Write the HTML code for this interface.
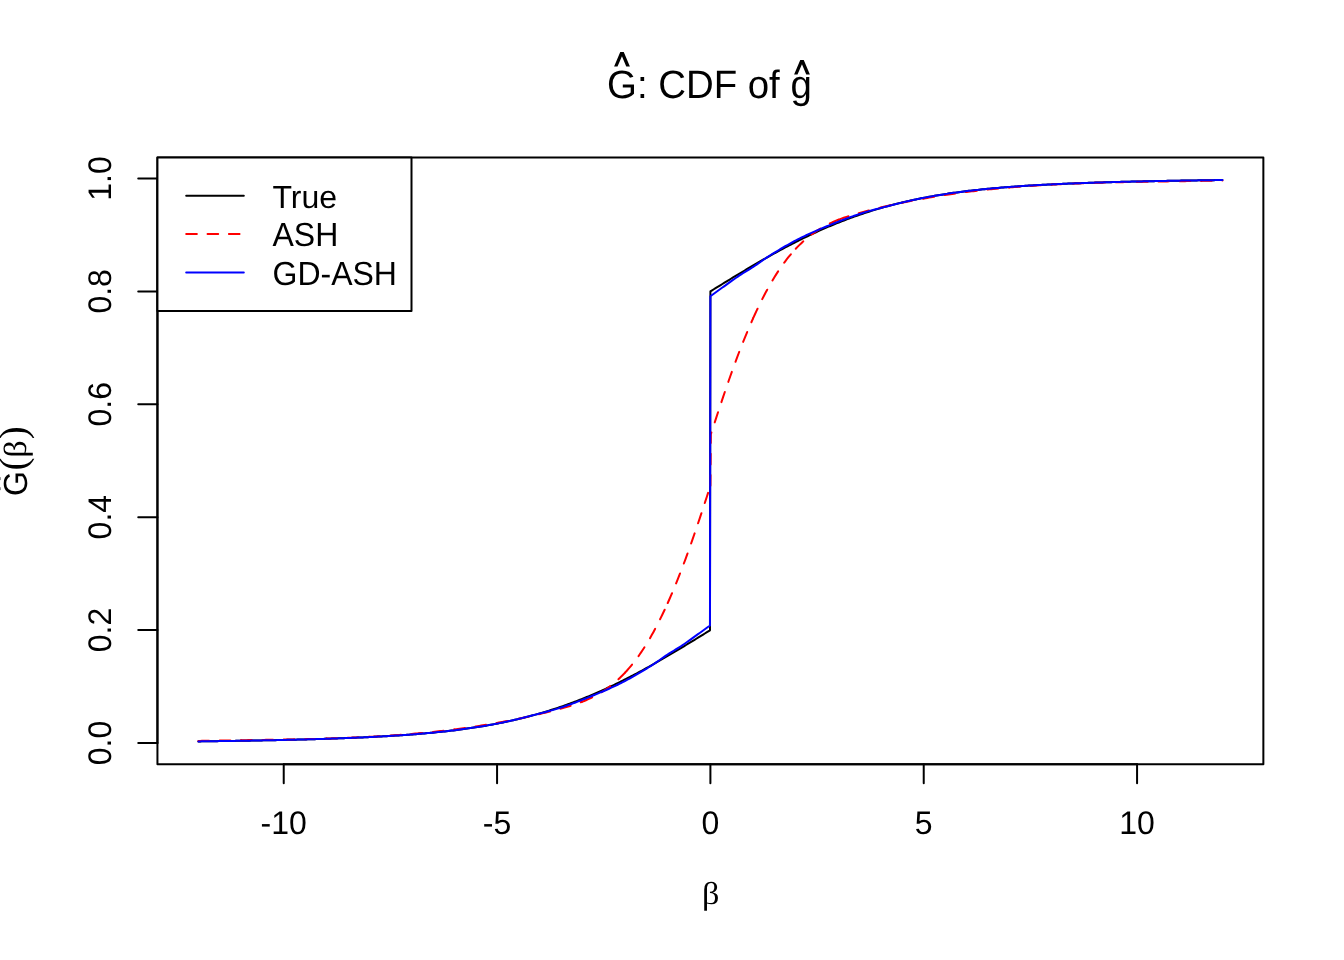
<!DOCTYPE html>
<html><head><meta charset="utf-8"><title>CDF of g</title>
<style>
html,body{margin:0;padding:0;background:#fff;}
body{width:1344px;height:960px;overflow:hidden;}
svg{display:block;will-change:transform;}
text{text-rendering:geometricPrecision;}
.t{font-family:"Liberation Sans",Arial,sans-serif;font-size:32px;fill:#000;}
.m{font-family:"Liberation Sans",Arial,sans-serif;font-size:38.4px;fill:#000;}
.g{font-family:"Liberation Serif","DejaVu Serif",serif;font-size:32px;fill:#000;}
.p{font-family:"Liberation Serif","DejaVu Serif",serif;font-size:39px;fill:#000;}
</style></head><body>
<svg width="1344" height="960" viewBox="0 0 1344 960">
<rect width="1344" height="960" fill="#fff"/>
<rect x="157.44" y="157.44" width="1105.92" height="606.72" fill="none" stroke="#000" stroke-width="2" stroke-linejoin="round"/>
<line x1="283.73" y1="764.16" x2="1137.07" y2="764.16" stroke="#000" stroke-width="2" stroke-linecap="round"/>
<line x1="283.73" y1="764.16" x2="283.73" y2="783.36" stroke="#000" stroke-width="2" stroke-linecap="round"/>
<line x1="497.07" y1="764.16" x2="497.07" y2="783.36" stroke="#000" stroke-width="2" stroke-linecap="round"/>
<line x1="710.40" y1="764.16" x2="710.40" y2="783.36" stroke="#000" stroke-width="2" stroke-linecap="round"/>
<line x1="923.73" y1="764.16" x2="923.73" y2="783.36" stroke="#000" stroke-width="2" stroke-linecap="round"/>
<line x1="1137.07" y1="764.16" x2="1137.07" y2="783.36" stroke="#000" stroke-width="2" stroke-linecap="round"/>
<line x1="157.44" y1="742.94" x2="157.44" y2="178.49" stroke="#000" stroke-width="2" stroke-linecap="round"/>
<line x1="157.44" y1="742.94" x2="138.24" y2="742.94" stroke="#000" stroke-width="2" stroke-linecap="round"/>
<line x1="157.44" y1="630.05" x2="138.24" y2="630.05" stroke="#000" stroke-width="2" stroke-linecap="round"/>
<line x1="157.44" y1="517.16" x2="138.24" y2="517.16" stroke="#000" stroke-width="2" stroke-linecap="round"/>
<line x1="157.44" y1="404.27" x2="138.24" y2="404.27" stroke="#000" stroke-width="2" stroke-linecap="round"/>
<line x1="157.44" y1="291.38" x2="138.24" y2="291.38" stroke="#000" stroke-width="2" stroke-linecap="round"/>
<line x1="157.44" y1="178.49" x2="138.24" y2="178.49" stroke="#000" stroke-width="2" stroke-linecap="round"/>
<text transform="translate(283.73,833.6) scale(1,1.02)" class="t" text-anchor="middle">-10</text>
<text transform="translate(497.07,833.6) scale(1,1.02)" class="t" text-anchor="middle">-5</text>
<text transform="translate(710.40,833.6) scale(1,1.02)" class="t" text-anchor="middle">0</text>
<text transform="translate(923.73,833.6) scale(1,1.02)" class="t" text-anchor="middle">5</text>
<text transform="translate(1137.07,833.6) scale(1,1.02)" class="t" text-anchor="middle">10</text>
<text transform="translate(111.3,742.94) rotate(-90) scale(1,1.02)" class="t" text-anchor="middle">0.0</text>
<text transform="translate(111.3,630.05) rotate(-90) scale(1,1.02)" class="t" text-anchor="middle">0.2</text>
<text transform="translate(111.3,517.16) rotate(-90) scale(1,1.02)" class="t" text-anchor="middle">0.4</text>
<text transform="translate(111.3,404.27) rotate(-90) scale(1,1.02)" class="t" text-anchor="middle">0.6</text>
<text transform="translate(111.3,291.38) rotate(-90) scale(1,1.02)" class="t" text-anchor="middle">0.8</text>
<text transform="translate(111.3,178.49) rotate(-90) scale(1,1.02)" class="t" text-anchor="middle">1.0</text>
<polyline points="198.40,741.40 200.11,741.38 201.82,741.35 203.53,741.33 205.24,741.31 206.95,741.29 208.67,741.27 210.38,741.24 212.09,741.22 213.80,741.20 215.51,741.17 217.22,741.15 218.93,741.12 220.64,741.10 222.35,741.07 224.06,741.05 225.77,741.02 227.49,741.00 229.20,740.97 230.91,740.94 232.62,740.92 234.33,740.89 236.04,740.86 237.75,740.83 239.46,740.81 241.17,740.78 242.88,740.75 244.60,740.72 246.31,740.69 248.02,740.66 249.73,740.63 251.44,740.60 253.15,740.57 254.86,740.54 256.57,740.50 258.28,740.47 259.99,740.44 261.70,740.41 263.42,740.37 265.13,740.34 266.84,740.31 268.55,740.27 270.26,740.24 271.97,740.20 273.68,740.16 275.39,740.13 277.10,740.09 278.81,740.05 280.53,740.01 282.24,739.98 283.95,739.94 285.66,739.90 287.37,739.86 289.08,739.82 290.79,739.78 292.50,739.73 294.21,739.69 295.92,739.65 297.63,739.61 299.35,739.56 301.06,739.52 302.77,739.47 304.48,739.43 306.19,739.38 307.90,739.33 309.61,739.28 311.32,739.24 313.03,739.19 314.74,739.14 316.46,739.09 318.17,739.03 319.88,738.98 321.59,738.93 323.30,738.88 325.01,738.82 326.72,738.77 328.43,738.71 330.14,738.65 331.85,738.59 333.56,738.54 335.28,738.48 336.99,738.41 338.70,738.35 340.41,738.29 342.12,738.23 343.83,738.16 345.54,738.10 347.25,738.03 348.96,737.96 350.67,737.89 352.39,737.82 354.10,737.75 355.81,737.68 357.52,737.60 359.23,737.53 360.94,737.45 362.65,737.38 364.36,737.30 366.07,737.22 367.78,737.13 369.49,737.05 371.21,736.97 372.92,736.88 374.63,736.79 376.34,736.70 378.05,736.61 379.76,736.52 381.47,736.43 383.18,736.33 384.89,736.23 386.60,736.14 388.31,736.03 390.03,735.93 391.74,735.83 393.45,735.72 395.16,735.61 396.87,735.50 398.58,735.39 400.29,735.27 402.00,735.16 403.71,735.04 405.42,734.92 407.14,734.79 408.85,734.67 410.56,734.54 412.27,734.41 413.98,734.27 415.69,734.14 417.40,734.00 419.11,733.86 420.82,733.71 422.53,733.57 424.24,733.42 425.96,733.27 427.67,733.11 429.38,732.95 431.09,732.79 432.80,732.63 434.51,732.46 436.22,732.29 437.93,732.12 439.64,731.94 441.35,731.76 443.07,731.57 444.78,731.39 446.49,731.20 448.20,731.00 449.91,730.80 451.62,730.60 453.33,730.39 455.04,730.18 456.75,729.97 458.46,729.75 460.17,729.53 461.89,729.30 463.60,729.07 465.31,728.84 467.02,728.60 468.73,728.36 470.44,728.11 472.15,727.86 473.86,727.60 475.57,727.34 477.28,727.07 479.00,726.80 480.71,726.52 482.42,726.24 484.13,725.95 485.84,725.66 487.55,725.36 489.26,725.06 490.97,724.75 492.68,724.44 494.39,724.12 496.10,723.80 497.82,723.46 499.53,723.13 501.24,722.79 502.95,722.44 504.66,722.09 506.37,721.73 508.08,721.36 509.79,720.99 511.50,720.61 513.21,720.23 514.93,719.84 516.64,719.44 518.35,719.04 520.06,718.63 521.77,718.21 523.48,717.79 525.19,717.36 526.90,716.92 528.61,716.48 530.32,716.03 532.03,715.57 533.75,715.10 535.46,714.63 537.17,714.15 538.88,713.67 540.59,713.18 542.30,712.68 544.01,712.17 545.72,711.65 547.43,711.13 549.14,710.60 550.86,710.06 552.57,709.52 554.28,708.97 555.99,708.41 557.70,707.84 559.41,707.27 561.12,706.68 562.83,706.09 564.54,705.50 566.25,704.89 567.96,704.28 569.68,703.66 571.39,703.03 573.10,702.39 574.81,701.75 576.52,701.09 578.23,700.43 579.94,699.77 581.65,699.09 583.36,698.41 585.07,697.72 586.79,697.02 588.50,696.31 590.21,695.60 591.92,694.88 593.63,694.15 595.34,693.41 597.05,692.66 598.76,691.91 600.47,691.15 602.18,690.38 603.89,689.61 605.61,688.82 607.32,688.03 609.03,687.24 610.74,686.43 612.45,685.62 614.16,684.80 615.87,683.97 617.58,683.14 619.29,682.30 621.00,681.45 622.71,680.59 624.43,679.73 626.14,678.86 627.85,677.99 629.56,677.11 631.27,676.22 632.98,675.32 634.69,674.42 636.40,673.51 638.11,672.60 639.82,671.68 641.54,670.76 643.25,669.83 644.96,668.89 646.67,667.95 648.38,667.00 650.09,666.04 651.80,665.08 653.51,664.12 655.22,663.15 656.93,662.18 658.64,661.20 660.36,660.21 662.07,659.23 663.78,658.23 665.49,657.24 667.20,656.24 668.91,655.23 670.62,654.22 672.33,653.21 674.04,652.20 675.75,651.18 677.47,650.15 679.18,649.13 680.89,648.10 682.60,647.07 684.31,646.03 686.02,645.00 687.73,643.96 689.44,642.92 691.15,641.87 692.86,640.83 694.57,639.78 696.29,638.73 698.00,637.68 699.71,636.63 701.42,635.58 703.13,634.53 704.84,633.48 706.55,632.42 708.26,631.37 709.97,630.31 710.40,291.38 712.11,290.32 713.82,289.27 715.54,288.21 717.25,287.16 718.96,286.11 720.67,285.05 722.39,284.00 724.10,282.95 725.81,281.90 727.52,280.85 729.24,279.81 730.95,278.76 732.66,277.72 734.37,276.68 736.09,275.64 737.80,274.61 739.51,273.57 741.22,272.54 742.94,271.52 744.65,270.49 746.36,269.47 748.07,268.45 749.78,267.44 751.50,266.43 753.21,265.42 754.92,264.42 756.63,263.42 758.35,262.43 760.06,261.44 761.77,260.45 763.48,259.47 765.20,258.50 766.91,257.52 768.62,256.56 770.33,255.60 772.05,254.64 773.76,253.69 775.47,252.75 777.18,251.81 778.90,250.87 780.61,249.95 782.32,249.03 784.03,248.11 785.74,247.20 787.46,246.30 789.17,245.40 790.88,244.51 792.59,243.63 794.31,242.75 796.02,241.88 797.73,241.01 799.44,240.16 801.16,239.31 802.87,238.46 804.58,237.63 806.29,236.80 808.01,235.98 809.72,235.16 811.43,234.36 813.14,233.56 814.85,232.76 816.57,231.98 818.28,231.20 819.99,230.43 821.70,229.67 823.42,228.91 825.13,228.17 826.84,227.43 828.55,226.69 830.27,225.97 831.98,225.25 833.69,224.54 835.40,223.84 837.12,223.15 838.83,222.47 840.54,221.79 842.25,221.12 843.97,220.46 845.68,219.80 847.39,219.16 849.10,218.52 850.81,217.89 852.53,217.26 854.24,216.65 855.95,216.04 857.66,215.44 859.38,214.85 861.09,214.27 862.80,213.69 864.51,213.12 866.23,212.56 867.94,212.00 869.65,211.46 871.36,210.92 873.08,210.39 874.79,209.86 876.50,209.35 878.21,208.84 879.93,208.34 881.64,207.84 883.35,207.36 885.06,206.88 886.77,206.40 888.49,205.94 890.20,205.48 891.91,205.03 893.62,204.58 895.34,204.14 897.05,203.71 898.76,203.29 900.47,202.87 902.19,202.46 903.90,202.05 905.61,201.65 907.32,201.26 909.04,200.88 910.75,200.50 912.46,200.12 914.17,199.76 915.89,199.40 917.60,199.04 919.31,198.69 921.02,198.35 922.73,198.01 924.45,197.68 926.16,197.36 927.87,197.04 929.58,196.72 931.30,196.41 933.01,196.11 934.72,195.81 936.43,195.52 938.15,195.23 939.86,194.95 941.57,194.67 943.28,194.40 945.00,194.13 946.71,193.87 948.42,193.61 950.13,193.36 951.85,193.11 953.56,192.86 955.27,192.62 956.98,192.39 958.69,192.16 960.41,191.93 962.12,191.71 963.83,191.49 965.54,191.27 967.26,191.06 968.97,190.85 970.68,190.65 972.39,190.45 974.11,190.26 975.82,190.07 977.53,189.88 979.24,189.69 980.96,189.51 982.67,189.33 984.38,189.16 986.09,188.99 987.80,188.82 989.52,188.66 991.23,188.50 992.94,188.34 994.65,188.18 996.37,188.03 998.08,187.88 999.79,187.73 1001.50,187.59 1003.22,187.45 1004.93,187.31 1006.64,187.17 1008.35,187.04 1010.07,186.91 1011.78,186.78 1013.49,186.65 1015.20,186.53 1016.92,186.41 1018.63,186.29 1020.34,186.17 1022.05,186.05 1023.76,185.94 1025.48,185.83 1027.19,185.72 1028.90,185.61 1030.61,185.51 1032.33,185.41 1034.04,185.30 1035.75,185.20 1037.46,185.11 1039.18,185.01 1040.89,184.92 1042.60,184.82 1044.31,184.73 1046.03,184.64 1047.74,184.56 1049.45,184.47 1051.16,184.39 1052.88,184.30 1054.59,184.22 1056.30,184.14 1058.01,184.06 1059.72,183.98 1061.44,183.91 1063.15,183.83 1064.86,183.76 1066.57,183.68 1068.29,183.61 1070.00,183.54 1071.71,183.47 1073.42,183.41 1075.14,183.34 1076.85,183.27 1078.56,183.21 1080.27,183.14 1081.99,183.08 1083.70,183.02 1085.41,182.96 1087.12,182.90 1088.84,182.84 1090.55,182.78 1092.26,182.72 1093.97,182.67 1095.68,182.61 1097.40,182.56 1099.11,182.50 1100.82,182.45 1102.53,182.40 1104.25,182.35 1105.96,182.30 1107.67,182.25 1109.38,182.20 1111.10,182.15 1112.81,182.10 1114.52,182.05 1116.23,182.01 1117.95,181.96 1119.66,181.92 1121.37,181.87 1123.08,181.83 1124.79,181.78 1126.51,181.74 1128.22,181.70 1129.93,181.66 1131.64,181.61 1133.36,181.57 1135.07,181.53 1136.78,181.49 1138.49,181.46 1140.21,181.42 1141.92,181.38 1143.63,181.34 1145.34,181.30 1147.06,181.27 1148.77,181.23 1150.48,181.20 1152.19,181.16 1153.91,181.13 1155.62,181.09 1157.33,181.06 1159.04,181.02 1160.75,180.99 1162.47,180.96 1164.18,180.93 1165.89,180.89 1167.60,180.86 1169.32,180.83 1171.03,180.80 1172.74,180.77 1174.45,180.74 1176.17,180.71 1177.88,180.68 1179.59,180.65 1181.30,180.62 1183.02,180.60 1184.73,180.57 1186.44,180.54 1188.15,180.51 1189.87,180.49 1191.58,180.46 1193.29,180.43 1195.00,180.41 1196.71,180.38 1198.43,180.36 1200.14,180.33 1201.85,180.31 1203.56,180.28 1205.28,180.26 1206.99,180.23 1208.70,180.21 1210.41,180.19 1212.13,180.16 1213.84,180.14 1215.55,180.12 1217.26,180.10 1218.98,180.08 1220.69,180.05 1222.40,180.03" fill="none" stroke="#000" stroke-width="2" stroke-linejoin="round" stroke-linecap="round"/>
<polyline points="198.40,740.94 200.18,740.91 201.96,740.87 203.73,740.84 205.51,740.80 207.29,740.77 209.07,740.73 210.84,740.70 212.62,740.67 214.40,740.64 216.18,740.61 217.96,740.58 219.73,740.55 221.51,740.52 223.29,740.49 225.07,740.46 226.84,740.43 228.62,740.40 230.40,740.38 232.18,740.35 233.96,740.32 235.73,740.30 237.51,740.27 239.29,740.24 241.07,740.22" fill="none" stroke="#ff0000" stroke-width="2" stroke-dasharray="10.667 10.667" stroke-linejoin="round" stroke-linecap="round"/>
<polyline points="241.07,740.22 242.84,740.19 244.62,740.17 246.40,740.14 248.18,740.12 249.96,740.09 251.73,740.06 253.51,740.04 255.29,740.01 257.07,739.99 258.84,739.96 260.62,739.94 262.40,739.91 264.18,739.88 265.96,739.86 267.73,739.83 269.51,739.80 271.29,739.77 273.07,739.75 274.84,739.72 276.62,739.69 278.40,739.66 280.18,739.63 281.96,739.60 283.73,739.57" fill="none" stroke="#ff0000" stroke-width="2" stroke-dasharray="10.667 10.667" stroke-linejoin="round" stroke-linecap="round"/>
<polyline points="283.73,739.57 285.51,739.53 287.29,739.50 289.07,739.47 290.84,739.44 292.62,739.40 294.40,739.37 296.18,739.33 297.96,739.29 299.73,739.26 301.51,739.22 303.29,739.18 305.07,739.14 306.84,739.10 308.62,739.06 310.40,739.01 312.18,738.97 313.96,738.92 315.73,738.88 317.51,738.83 319.29,738.78 321.07,738.73 322.84,738.68 324.62,738.63 326.40,738.57" fill="none" stroke="#ff0000" stroke-width="2" stroke-dasharray="10.667 10.667" stroke-linejoin="round" stroke-linecap="round"/>
<polyline points="326.40,738.57 328.18,738.52 329.96,738.46 331.73,738.41 333.51,738.35 335.29,738.29 337.07,738.22 338.84,738.16 340.62,738.10 342.40,738.03 344.18,737.96 345.96,737.89 347.73,737.82 349.51,737.75 351.29,737.67 353.07,737.60 354.84,737.52 356.62,737.44 358.40,737.36 360.18,737.27 361.96,737.19 363.73,737.10 365.51,737.01 367.29,736.92 369.07,736.83" fill="none" stroke="#ff0000" stroke-width="2" stroke-dasharray="10.667 10.667" stroke-linejoin="round" stroke-linecap="round"/>
<polyline points="369.07,736.83 370.84,736.73 372.62,736.63 374.40,736.53 376.18,736.43 377.96,736.33 379.73,736.22 381.51,736.12 383.29,736.01 385.07,735.89 386.84,735.78 388.62,735.66 390.40,735.54 392.18,735.42 393.96,735.29 395.73,735.17 397.51,735.04 399.29,734.91 401.07,734.77 402.84,734.64 404.62,734.50 406.40,734.35 408.18,734.21 409.96,734.06 411.73,733.91" fill="none" stroke="#ff0000" stroke-width="2" stroke-dasharray="10.667 10.667" stroke-linejoin="round" stroke-linecap="round"/>
<polyline points="411.73,733.91 413.51,733.76 415.29,733.60 417.07,733.44 418.84,733.28 420.62,733.12 422.40,732.95 424.18,732.78 425.96,732.61 427.73,732.43 429.51,732.25 431.29,732.07 433.07,731.88 434.84,731.70 436.62,731.50 438.40,731.31 440.18,731.11 441.96,730.91 443.73,730.71 445.51,730.50 447.29,730.29 449.07,730.07 450.84,729.86 452.62,729.63 454.40,729.41" fill="none" stroke="#ff0000" stroke-width="2" stroke-dasharray="10.667 10.667" stroke-linejoin="round" stroke-linecap="round"/>
<polyline points="454.40,729.41 456.18,729.18 457.96,728.95 459.73,728.72 461.51,728.48 463.29,728.23 465.07,727.99 466.84,727.74 468.62,727.49 470.40,727.23 472.18,726.97 473.96,726.70 475.73,726.44 477.51,726.16 479.29,725.89 481.07,725.61 482.84,725.33 484.62,725.04 486.40,724.75 488.18,724.45 489.96,724.15 491.73,723.85 493.51,723.54 495.29,723.23 497.07,722.91" fill="none" stroke="#ff0000" stroke-width="2" stroke-dasharray="10.667 10.667" stroke-linejoin="round" stroke-linecap="round"/>
<polyline points="497.07,722.91 498.84,722.59 500.62,722.27 502.40,721.94 504.18,721.60 505.96,721.27 507.73,720.93 509.51,720.58 511.29,720.23 513.07,719.87 514.84,719.51 516.62,719.15 518.40,718.78 520.18,718.41 521.96,718.03 523.73,717.65 525.51,717.26 527.29,716.87 529.07,716.48 530.84,716.08 532.62,715.67 534.40,715.26 536.18,714.84 537.96,714.42 539.73,714.00" fill="none" stroke="#ff0000" stroke-width="2" stroke-dasharray="10.667 10.667" stroke-linejoin="round" stroke-linecap="round"/>
<polyline points="539.73,714.00 541.51,713.57 543.29,713.13 545.07,712.69 546.84,712.25 548.62,711.80 550.40,711.35 552.18,710.89 553.96,710.42 555.73,709.95 557.51,709.48 559.29,708.99 561.07,708.51 562.84,708.02 564.62,707.52 566.40,707.01 568.18,706.48 569.96,705.95 571.73,705.40 573.51,704.83 575.29,704.24 577.07,703.63 578.84,703.00 580.62,702.34 582.40,701.66" fill="none" stroke="#ff0000" stroke-width="2" stroke-dasharray="10.667 10.667" stroke-linejoin="round" stroke-linecap="round"/>
<polyline points="582.40,701.66 584.18,700.95 585.96,700.21 587.73,699.44 589.51,698.63 591.29,697.79 593.07,696.91 594.84,696.00 596.62,695.04 598.40,694.04 600.18,692.99 601.96,691.90 603.73,690.76 605.51,689.57 607.29,688.32 609.07,687.03 610.84,685.68 612.62,684.27 614.40,682.80 616.18,681.27 617.96,679.68 619.73,678.02 621.51,676.30 623.29,674.51 625.07,672.65" fill="none" stroke="#ff0000" stroke-width="2" stroke-dasharray="10.667 10.667" stroke-linejoin="round" stroke-linecap="round"/>
<polyline points="625.07,672.65 626.84,670.71 628.62,668.70 630.40,666.62 632.18,664.46 633.96,662.22 635.73,659.90 637.51,657.50 639.29,655.01 641.07,652.44 642.84,649.78 644.62,647.03 646.40,644.18 648.18,641.25 649.96,638.22 651.73,635.10 653.51,631.90 655.29,628.60 657.07,625.21 658.84,621.73 660.62,618.17 662.40,614.51 664.18,610.77 665.96,606.94 667.73,603.02" fill="none" stroke="#ff0000" stroke-width="2" stroke-dasharray="10.667 10.667" stroke-linejoin="round" stroke-linecap="round"/>
<polyline points="667.73,603.02 669.51,599.01 671.29,594.92 673.07,590.74 674.84,586.47 676.62,582.11 678.40,577.67 680.18,573.15 681.96,568.53 683.73,563.84 685.51,559.05 687.29,554.19 689.07,549.26 690.84,544.25 692.62,539.18 694.40,534.04 696.18,528.85 697.96,523.60 699.73,518.31 701.51,512.97 703.29,507.59 705.07,502.17 706.84,496.72 708.62,491.25 710.40,485.75" fill="none" stroke="#ff0000" stroke-width="2" stroke-dasharray="10.667 10.667" stroke-linejoin="round" stroke-linecap="round"/>
<polyline points="710.40,485.75 710.83,434.36 712.59,428.92 714.35,423.50 716.11,418.12 717.87,412.76 719.63,407.44 721.39,402.17 723.15,396.93 724.91,391.75 726.67,386.61 728.43,381.54 730.19,376.52 731.95,371.58 733.71,366.70 735.47,361.89 737.23,357.17 738.99,352.52 740.75,347.97 742.51,343.49 744.27,339.10 746.03,334.79 747.79,330.57 749.55,326.43 751.31,322.38 753.07,318.41" fill="none" stroke="#ff0000" stroke-width="2" stroke-dasharray="10.667 10.667" stroke-linejoin="round" stroke-linecap="round"/>
<polyline points="753.07,318.41 754.84,314.49 756.62,310.66 758.40,306.92 760.18,303.26 761.96,299.70 763.73,296.22 765.51,292.83 767.29,289.53 769.07,286.33 770.84,283.21 772.62,280.18 774.40,277.25 776.18,274.40 777.96,271.65 779.73,268.99 781.51,266.42 783.29,263.93 785.07,261.53 786.84,259.21 788.62,256.97 790.40,254.81 792.18,252.73 793.96,250.72 795.73,248.78" fill="none" stroke="#ff0000" stroke-width="2" stroke-dasharray="10.667 10.667" stroke-linejoin="round" stroke-linecap="round"/>
<polyline points="795.73,248.78 797.51,246.92 799.29,245.13 801.07,243.41 802.84,241.75 804.62,240.16 806.40,238.63 808.18,237.16 809.96,235.75 811.73,234.40 813.51,233.11 815.29,231.86 817.07,230.67 818.84,229.53 820.62,228.44 822.40,227.39 824.18,226.39 825.96,225.43 827.73,224.52 829.51,223.64 831.29,222.80 833.07,221.99 834.84,221.22 836.62,220.48 838.40,219.77" fill="none" stroke="#ff0000" stroke-width="2" stroke-dasharray="10.667 10.667" stroke-linejoin="round" stroke-linecap="round"/>
<polyline points="838.40,219.77 840.18,219.09 841.96,218.43 843.73,217.80 845.51,217.19 847.29,216.60 849.07,216.03 850.84,215.48 852.62,214.95 854.40,214.42 856.18,213.91 857.96,213.41 859.73,212.92 861.51,212.44 863.29,211.95 865.07,211.48 866.84,211.01 868.62,210.54 870.40,210.08 872.18,209.63 873.96,209.18 875.73,208.74 877.51,208.30 879.29,207.86 881.07,207.43" fill="none" stroke="#ff0000" stroke-width="2" stroke-dasharray="10.667 10.667" stroke-linejoin="round" stroke-linecap="round"/>
<polyline points="881.07,207.43 882.84,207.01 884.62,206.59 886.40,206.17 888.18,205.76 889.96,205.35 891.73,204.95 893.51,204.56 895.29,204.17 897.07,203.78 898.84,203.40 900.62,203.02 902.40,202.65 904.18,202.28 905.96,201.92 907.73,201.56 909.51,201.20 911.29,200.85 913.07,200.50 914.84,200.16 916.62,199.83 918.40,199.49 920.18,199.16 921.96,198.84 923.73,198.52" fill="none" stroke="#ff0000" stroke-width="2" stroke-dasharray="10.667 10.667" stroke-linejoin="round" stroke-linecap="round"/>
<polyline points="923.73,198.52 925.51,198.20 927.29,197.89 929.07,197.58 930.84,197.28 932.62,196.98 934.40,196.68 936.18,196.39 937.96,196.10 939.73,195.82 941.51,195.54 943.29,195.27 945.07,194.99 946.84,194.73 948.62,194.46 950.40,194.20 952.18,193.94 953.96,193.69 955.73,193.44 957.51,193.20 959.29,192.95 961.07,192.71 962.84,192.48 964.62,192.25 966.40,192.02" fill="none" stroke="#ff0000" stroke-width="2" stroke-dasharray="10.667 10.667" stroke-linejoin="round" stroke-linecap="round"/>
<polyline points="966.40,192.02 968.18,191.80 969.96,191.57 971.73,191.36 973.51,191.14 975.29,190.93 977.07,190.72 978.84,190.52 980.62,190.32 982.40,190.12 984.18,189.93 985.96,189.73 987.73,189.55 989.51,189.36 991.29,189.18 993.07,189.00 994.84,188.82 996.62,188.65 998.40,188.48 1000.18,188.31 1001.96,188.15 1003.73,187.99 1005.51,187.83 1007.29,187.67 1009.07,187.52" fill="none" stroke="#ff0000" stroke-width="2" stroke-dasharray="10.667 10.667" stroke-linejoin="round" stroke-linecap="round"/>
<polyline points="1009.07,187.52 1010.84,187.37 1012.62,187.22 1014.40,187.08 1016.18,186.93 1017.96,186.79 1019.73,186.66 1021.51,186.52 1023.29,186.39 1025.07,186.26 1026.84,186.14 1028.62,186.01 1030.40,185.89 1032.18,185.77 1033.96,185.65 1035.73,185.54 1037.51,185.42 1039.29,185.31 1041.07,185.21 1042.84,185.10 1044.62,185.00 1046.40,184.90 1048.18,184.80 1049.96,184.70 1051.73,184.60" fill="none" stroke="#ff0000" stroke-width="2" stroke-dasharray="10.667 10.667" stroke-linejoin="round" stroke-linecap="round"/>
<polyline points="1051.73,184.60 1053.51,184.51 1055.29,184.42 1057.07,184.33 1058.84,184.24 1060.62,184.16 1062.40,184.07 1064.18,183.99 1065.96,183.91 1067.73,183.83 1069.51,183.76 1071.29,183.68 1073.07,183.61 1074.84,183.54 1076.62,183.47 1078.40,183.40 1080.18,183.33 1081.96,183.27 1083.73,183.21 1085.51,183.14 1087.29,183.08 1089.07,183.02 1090.84,182.97 1092.62,182.91 1094.40,182.86" fill="none" stroke="#ff0000" stroke-width="2" stroke-dasharray="10.667 10.667" stroke-linejoin="round" stroke-linecap="round"/>
<polyline points="1094.40,182.86 1096.18,182.80 1097.96,182.75 1099.73,182.70 1101.51,182.65 1103.29,182.60 1105.07,182.55 1106.84,182.51 1108.62,182.46 1110.40,182.42 1112.18,182.37 1113.96,182.33 1115.73,182.29 1117.51,182.25 1119.29,182.21 1121.07,182.17 1122.84,182.14 1124.62,182.10 1126.40,182.06 1128.18,182.03 1129.96,181.99 1131.73,181.96 1133.51,181.93 1135.29,181.90 1137.07,181.86" fill="none" stroke="#ff0000" stroke-width="2" stroke-dasharray="10.667 10.667" stroke-linejoin="round" stroke-linecap="round"/>
<polyline points="1137.07,181.86 1138.84,181.83 1140.62,181.80 1142.40,181.77 1144.18,181.74 1145.96,181.71 1147.73,181.68 1149.51,181.66 1151.29,181.63 1153.07,181.60 1154.84,181.57 1156.62,181.55 1158.40,181.52 1160.18,181.49 1161.96,181.47 1163.73,181.44 1165.51,181.42 1167.29,181.39 1169.07,181.37 1170.84,181.34 1172.62,181.31 1174.40,181.29 1176.18,181.26 1177.96,181.24 1179.73,181.21" fill="none" stroke="#ff0000" stroke-width="2" stroke-dasharray="10.667 10.667" stroke-linejoin="round" stroke-linecap="round"/>
<polyline points="1179.73,181.21 1181.51,181.19 1183.29,181.16 1185.07,181.13 1186.84,181.11 1188.62,181.08 1190.40,181.05 1192.18,181.03 1193.96,181.00 1195.73,180.97 1197.51,180.94 1199.29,180.91 1201.07,180.88 1202.84,180.85 1204.62,180.82 1206.40,180.79 1208.18,180.76 1209.96,180.73 1211.73,180.70 1213.51,180.66 1215.29,180.63 1217.07,180.59 1218.84,180.56 1220.62,180.52 1222.40,180.49" fill="none" stroke="#ff0000" stroke-width="2" stroke-dasharray="10.667 10.667" stroke-linejoin="round" stroke-linecap="round"/>
<polyline points="198.40,741.40 200.11,741.38 201.82,741.35 203.53,741.33 205.24,741.31 206.95,741.29 208.67,741.27 210.38,741.24 212.09,741.22 213.80,741.20 215.51,741.17 217.22,741.15 218.93,741.12 220.64,741.10 222.35,741.07 224.06,741.05 225.77,741.02 227.49,741.00 229.20,740.97 230.91,740.94 232.62,740.92 234.33,740.89 236.04,740.86 237.75,740.83 239.46,740.81 241.17,740.78 242.88,740.75 244.60,740.72 246.31,740.69 248.02,740.66 249.73,740.63 251.44,740.60 253.15,740.57 254.86,740.54 256.57,740.50 258.28,740.47 259.99,740.44 261.70,740.41 263.42,740.37 265.13,740.34 266.84,740.31 268.55,740.27 270.26,740.24 271.97,740.20 273.68,740.16 275.39,740.13 277.10,740.09 278.81,740.05 280.53,740.01 282.24,739.98 283.95,739.94 285.66,739.90 287.37,739.86 289.08,739.82 290.79,739.78 292.50,739.73 294.21,739.69 295.92,739.65 297.63,739.61 299.35,739.56 301.06,739.52 302.77,739.47 304.48,739.43 306.19,739.38 307.90,739.33 309.61,739.28 311.32,739.24 313.03,739.19 314.74,739.14 316.46,739.09 318.17,739.03 319.88,738.98 321.59,738.93 323.30,738.88 325.01,738.82 326.72,738.77 328.43,738.71 330.14,738.65 331.85,738.59 333.56,738.54 335.28,738.48 336.99,738.41 338.70,738.35 340.41,738.29 342.12,738.23 343.83,738.16 345.54,738.10 347.25,738.03 348.96,737.96 350.67,737.89 352.39,737.82 354.10,737.75 355.81,737.68 357.52,737.60 359.23,737.53 360.94,737.45 362.65,737.38 364.36,737.30 366.07,737.22 367.78,737.13 369.49,737.05 371.21,736.97 372.92,736.88 374.63,736.79 376.34,736.70 378.05,736.61 379.76,736.52 381.47,736.43 383.18,736.33 384.89,736.23 386.60,736.14 388.31,736.03 390.03,735.93 391.74,735.83 393.45,735.72 395.16,735.61 396.87,735.50 398.58,735.39 400.29,735.27 402.00,735.16 403.71,735.04 405.42,734.92 407.14,734.79 408.85,734.67 410.56,734.54 412.27,734.41 413.98,734.27 415.69,734.14 417.40,734.00 419.11,733.86 420.82,733.71 422.53,733.57 424.24,733.42 425.96,733.27 427.67,733.11 429.38,732.95 431.09,732.79 432.80,732.63 434.51,732.46 436.22,732.29 437.93,732.12 439.64,731.94 441.35,731.76 443.07,731.57 444.78,731.39 446.49,731.20 448.20,731.00 449.91,730.80 451.62,730.60 453.33,730.39 455.04,730.18 456.75,729.97 458.46,729.75 460.17,729.53 461.89,729.30 463.60,729.07 465.31,728.84 467.02,728.60 468.73,728.36 470.44,728.11 472.15,727.86 473.86,727.60 475.57,727.34 477.28,727.07 479.00,726.80 480.71,726.52 482.42,726.24 484.13,725.95 485.84,725.66 487.55,725.36 489.26,725.06 490.97,724.75 492.68,724.44 494.39,724.12 496.10,723.80 497.82,723.46 499.53,723.13 501.24,722.79 502.95,722.44 504.66,722.08 506.37,721.72 508.08,721.34 509.79,720.96 511.50,720.58 513.21,720.19 514.93,719.79 516.64,719.38 518.35,718.97 520.06,718.55 521.77,718.13 523.48,717.70 525.19,717.26 526.90,716.82 528.61,716.38 530.32,715.93 532.03,715.48 533.75,715.04 535.46,714.60 537.17,714.16 538.88,713.73 540.59,713.30 542.30,712.86 544.01,712.42 545.72,711.98 547.43,711.53 549.14,711.07 550.86,710.60 552.57,710.12 554.28,709.63 555.99,709.12 557.70,708.60 559.41,708.06 561.12,707.50 562.83,706.93 564.54,706.36 566.25,705.77 567.96,705.17 569.68,704.57 571.39,703.96 573.10,703.33 574.81,702.70 576.52,702.07 578.23,701.42 579.94,700.77 581.65,700.11 583.36,699.44 585.07,698.76 586.79,698.08 588.50,697.39 590.21,696.70 591.92,696.00 593.63,695.30 595.34,694.59 597.05,693.88 598.76,693.17 600.47,692.45 602.18,691.72 603.89,690.98 605.61,690.23 607.32,689.48 609.03,688.72 610.74,687.94 612.45,687.16 614.16,686.36 615.87,685.55 617.58,684.73 619.29,683.90 621.00,683.05 622.71,682.18 624.43,681.29 626.14,680.39 627.85,679.47 629.56,678.54 631.27,677.59 632.98,676.63 634.69,675.66 636.40,674.67 638.11,673.67 639.82,672.66 641.54,671.65 643.25,670.62 644.96,669.58 646.67,668.54 648.38,667.49 650.09,666.44 651.80,665.36 653.51,664.23 655.22,663.08 656.93,661.90 658.64,660.70 660.36,659.50 662.07,658.30 663.78,657.11 665.49,655.93 667.20,654.79 668.91,653.68 670.62,652.61 672.33,651.55 674.04,650.51 675.75,649.47 677.47,648.41 679.18,647.35 680.89,646.26 682.60,645.14 684.31,643.97 686.02,642.78 687.73,641.56 689.44,640.33 691.15,639.09 692.86,637.86 694.57,636.63 696.29,635.40 698.00,634.18 699.71,632.94 701.42,631.71 703.13,630.47 704.84,629.22 706.55,627.97 708.26,626.72 709.97,625.46 710.40,296.28 712.11,295.02 713.82,293.77 715.54,292.52 717.25,291.27 718.96,290.03 720.67,288.79 722.39,287.55 724.10,286.32 725.81,285.10 727.52,283.87 729.24,282.63 730.95,281.39 732.66,280.16 734.37,278.94 736.09,277.74 737.80,276.56 739.51,275.43 741.22,274.33 742.94,273.26 744.65,272.21 746.36,271.16 748.07,270.12 749.78,269.07 751.50,268.00 753.21,266.90 754.92,265.76 756.63,264.59 758.35,263.40 760.06,262.20 761.77,261.00 763.48,259.80 765.20,258.61 766.91,257.45 768.62,256.32 770.33,255.23 772.05,254.17 773.76,253.12 775.47,252.07 777.18,251.04 778.90,250.01 780.61,248.98 782.32,247.97 784.03,246.97 785.74,245.98 787.46,245.00 789.17,244.04 790.88,243.09 792.59,242.15 794.31,241.23 796.02,240.32 797.73,239.43 799.44,238.56 801.16,237.71 802.87,236.87 804.58,236.04 806.29,235.23 808.01,234.43 809.72,233.65 811.43,232.87 813.14,232.10 814.85,231.35 816.57,230.60 818.28,229.86 819.99,229.13 821.70,228.40 823.42,227.68 825.13,226.97 826.84,226.26 828.55,225.56 830.27,224.86 831.98,224.17 833.69,223.48 835.40,222.80 837.12,222.12 838.83,221.45 840.54,220.79 842.25,220.13 843.97,219.48 845.68,218.84 847.39,218.21 849.10,217.59 850.81,216.97 852.53,216.36 854.24,215.77 855.95,215.18 857.66,214.60 859.38,214.03 861.09,213.47 862.80,212.93 864.51,212.40 866.23,211.89 867.94,211.40 869.65,210.91 871.36,210.44 873.08,209.98 874.79,209.53 876.50,209.08 878.21,208.64 879.93,208.21 881.64,207.77 883.35,207.34 885.06,206.90 886.77,206.47 888.49,206.02 890.20,205.58 891.91,205.13 893.62,204.68 895.34,204.24 897.05,203.80 898.76,203.37 900.47,202.94 902.19,202.53 903.90,202.11 905.61,201.71 907.32,201.30 909.04,200.91 910.75,200.52 912.46,200.14 914.17,199.77 915.89,199.40 917.60,199.05 919.31,198.69 921.02,198.35 922.73,198.01 924.45,197.68 926.16,197.36 927.87,197.04 929.58,196.72 931.30,196.41 933.01,196.11 934.72,195.81 936.43,195.52 938.15,195.23 939.86,194.95 941.57,194.67 943.28,194.40 945.00,194.13 946.71,193.87 948.42,193.61 950.13,193.36 951.85,193.11 953.56,192.86 955.27,192.62 956.98,192.39 958.69,192.16 960.41,191.93 962.12,191.71 963.83,191.49 965.54,191.27 967.26,191.06 968.97,190.85 970.68,190.65 972.39,190.45 974.11,190.26 975.82,190.07 977.53,189.88 979.24,189.69 980.96,189.51 982.67,189.33 984.38,189.16 986.09,188.99 987.80,188.82 989.52,188.66 991.23,188.50 992.94,188.34 994.65,188.18 996.37,188.03 998.08,187.88 999.79,187.73 1001.50,187.59 1003.22,187.45 1004.93,187.31 1006.64,187.17 1008.35,187.04 1010.07,186.91 1011.78,186.78 1013.49,186.65 1015.20,186.53 1016.92,186.41 1018.63,186.29 1020.34,186.17 1022.05,186.05 1023.76,185.94 1025.48,185.83 1027.19,185.72 1028.90,185.61 1030.61,185.51 1032.33,185.41 1034.04,185.30 1035.75,185.20 1037.46,185.11 1039.18,185.01 1040.89,184.92 1042.60,184.82 1044.31,184.73 1046.03,184.64 1047.74,184.56 1049.45,184.47 1051.16,184.39 1052.88,184.30 1054.59,184.22 1056.30,184.14 1058.01,184.06 1059.72,183.98 1061.44,183.91 1063.15,183.83 1064.86,183.76 1066.57,183.68 1068.29,183.61 1070.00,183.54 1071.71,183.47 1073.42,183.41 1075.14,183.34 1076.85,183.27 1078.56,183.21 1080.27,183.14 1081.99,183.08 1083.70,183.02 1085.41,182.96 1087.12,182.90 1088.84,182.84 1090.55,182.78 1092.26,182.72 1093.97,182.67 1095.68,182.61 1097.40,182.56 1099.11,182.50 1100.82,182.45 1102.53,182.40 1104.25,182.35 1105.96,182.30 1107.67,182.25 1109.38,182.20 1111.10,182.15 1112.81,182.10 1114.52,182.05 1116.23,182.01 1117.95,181.96 1119.66,181.92 1121.37,181.87 1123.08,181.83 1124.79,181.78 1126.51,181.74 1128.22,181.70 1129.93,181.66 1131.64,181.61 1133.36,181.57 1135.07,181.53 1136.78,181.49 1138.49,181.46 1140.21,181.42 1141.92,181.38 1143.63,181.34 1145.34,181.30 1147.06,181.27 1148.77,181.23 1150.48,181.20 1152.19,181.16 1153.91,181.13 1155.62,181.09 1157.33,181.06 1159.04,181.02 1160.75,180.99 1162.47,180.96 1164.18,180.93 1165.89,180.89 1167.60,180.86 1169.32,180.83 1171.03,180.80 1172.74,180.77 1174.45,180.74 1176.17,180.71 1177.88,180.68 1179.59,180.65 1181.30,180.62 1183.02,180.60 1184.73,180.57 1186.44,180.54 1188.15,180.51 1189.87,180.49 1191.58,180.46 1193.29,180.43 1195.00,180.41 1196.71,180.38 1198.43,180.36 1200.14,180.33 1201.85,180.31 1203.56,180.28 1205.28,180.26 1206.99,180.23 1208.70,180.21 1210.41,180.19 1212.13,180.16 1213.84,180.14 1215.55,180.12 1217.26,180.10 1218.98,180.08 1220.69,180.05 1222.40,180.03" fill="none" stroke="#0000ff" stroke-width="2" stroke-linejoin="round" stroke-linecap="round"/>
<rect x="157.44" y="157.44" width="254.06" height="153.46" fill="#fff" stroke="#000" stroke-width="2" stroke-linejoin="round"/>
<line x1="186.2" y1="195.7" x2="243.8" y2="195.7" stroke="#000" stroke-width="2" stroke-linecap="round"/>
<line x1="186.2" y1="234.1" x2="243.8" y2="234.1" stroke="#ff0000" stroke-width="2" stroke-dasharray="10.67 10.67" stroke-linecap="round"/>
<line x1="186.2" y1="272.5" x2="243.8" y2="272.5" stroke="#0000ff" stroke-width="2" stroke-linecap="round"/>
<text transform="translate(272.5,207.7) scale(1,1.0)" class="t">True</text>
<text transform="translate(272.5,246.1) scale(1,1.044)" class="t">ASH</text>
<text transform="translate(272.5,284.5) scale(1,1.044)" class="t">GD-ASH</text>
<text transform="translate(607.0,98.2) scale(1,1.03)" class="m">G<tspan>: CDF of </tspan>g</text>
<polygon points="614.10,66.60 620.25,52.00 623.75,52.00 629.90,66.60 626.25,66.60 621.95,56.25 617.50,66.60" fill="#000"/>
<polygon points="794.10,74.60 800.25,60.00 803.75,60.00 809.90,74.60 806.25,74.60 801.95,64.25 797.50,74.60" fill="#000"/>
<text transform="translate(710.6,903.8) scale(1.07,0.985)" class="g" text-anchor="middle">β</text>
<g transform="translate(26.5,500) rotate(-90)"><text x="0" y="0" class="t" transform="translate(3.9,0) scale(1,1.044)">G</text><text x="29.6" y="-0.5" class="p">(</text><text x="0" y="0" class="g" transform="translate(42.25,-0.3) scale(1.07,1)">β</text><text x="60.85" y="-0.5" class="p">)</text></g>
<polygon points="-6.58,0.00 -1.46,-12.17 1.46,-12.17 6.58,0.00 3.54,0.00 -0.04,-8.62 -3.75,0.00" fill="#000" transform="translate(0.4,483.6) rotate(-90)"/>
</svg>
</body></html>
